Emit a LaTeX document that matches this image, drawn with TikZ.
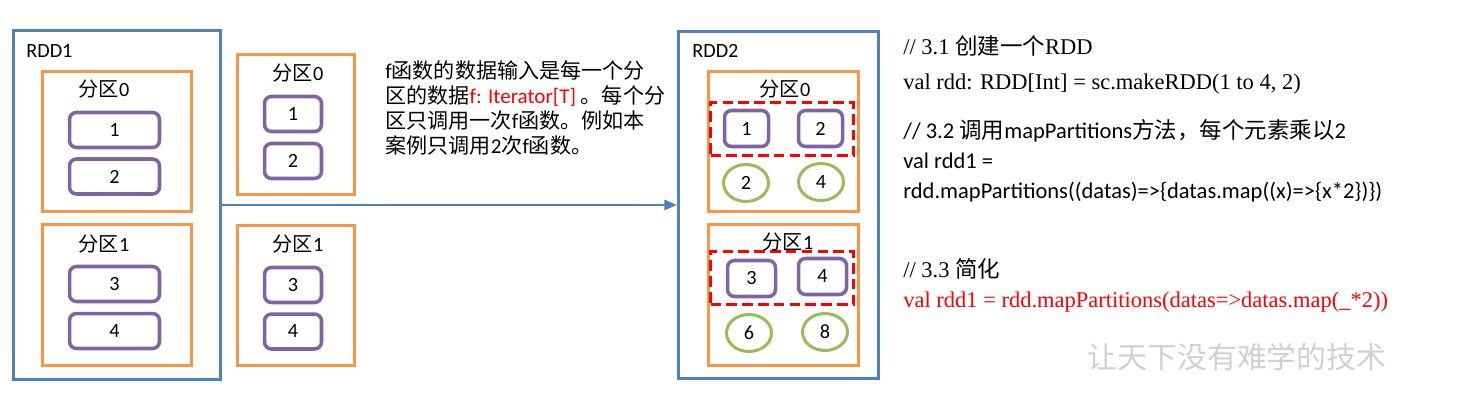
\documentclass[tikz,border=0pt]{standalone}
\usepackage{fontspec}
\setmainfont{Carlito}
\newfontfamily\cjk{Noto Sans CJK SC}
\newfontfamily\serifcode{Liberation Serif}
\usetikzlibrary{arrows.meta,shapes.geometric}
\definecolor{rddblue}{HTML}{4F81BD}
\definecolor{partorange}{HTML}{F79646}
\definecolor{elempurple}{HTML}{8064A2}
\definecolor{resgreen}{HTML}{9BBB59}
\definecolor{markgray}{HTML}{D0D0D0}

\begin{document}
\begin{tikzpicture}[x=0.02cm, y=-0.02cm,
  rddbox/.style={draw=rddblue, line width=2pt, inner sep=0pt},
  partbox/.style={draw=partorange, line width=2pt, inner sep=0pt},
  elembox/.style={draw=elempurple, line width=2pt, rounded corners=4pt, inner sep=0pt,
                  font=\fontsize{11.5}{13}\selectfont},
  resnode/.style={ellipse, draw=resgreen, line width=1.7pt, inner sep=0pt,
                  minimum width=0.9cm, minimum height=0.74cm, font=\fontsize{11.5}{13}\selectfont},
  mapbox/.style={draw=red, line width=2pt, dash pattern=on 6pt off 3pt, inner sep=0pt,
                 minimum width=2.86cm, minimum height=1.06cm},
  namelabel/.style={inner sep=0pt, anchor=base west, font=\fontsize{11.5}{13}\selectfont},
  partlabel/.style={inner sep=0pt, font=\fontsize{11.5}{13}\selectfont},
  codeline/.style={inner sep=0pt, anchor=base west, font=\fontsize{12.8}{15}\selectfont},
  flowarrow/.style={draw=rddblue, line width=0.7pt, -{Triangle[length=7pt,width=6pt]}}]
\useasboundingbox (0,0) rectangle (1479,402);

% RDD1
\node[rddbox, minimum width=4.14cm, minimum height=6.98cm] (rdd1) at (117,205) {};
\node[namelabel] (rdd1name) at (26,58) {RDD1};
\node[partbox, minimum width=2.98cm, minimum height=2.8cm] (src0) at (117,141.5) {};
\node[partbox, minimum width=2.98cm, minimum height=2.82cm] (src1) at (117,295) {};
\node[partlabel] (src0name) at (104,89) {{\cjk 分区}0};
\node[partlabel] (src1name) at (104,244) {{\cjk 分区}1};
\node[elembox, minimum width=1.8cm, minimum height=0.7cm] (srca) at (114.5,130) {1};
\node[elembox, minimum width=1.8cm, minimum height=0.7cm] (srcb) at (114.5,176.5) {2};
\node[elembox, minimum width=1.8cm, minimum height=0.7cm] (srcc) at (114.5,284) {3};
\node[elembox, minimum width=1.8cm, minimum height=0.7cm] (srcd) at (114.5,331) {4};

% partitions handed to f
\node[partbox, minimum width=2.34cm, minimum height=2.8cm] (fin0) at (296,124.5) {};
\node[partbox, minimum width=2.34cm, minimum height=2.8cm] (fin1) at (296,295.5) {};
\node[partlabel] (fin0name) at (298,73) {{\cjk 分区}0};
\node[partlabel] (fin1name) at (298,244) {{\cjk 分区}1};
\node[elembox, minimum width=1.14cm, minimum height=0.7cm] (fina) at (293,114) {1};
\node[elembox, minimum width=1.14cm, minimum height=0.7cm] (finb) at (293,161) {2};
\node[elembox, minimum width=1.14cm, minimum height=0.7cm] (finc) at (293,285) {3};
\node[elembox, minimum width=1.14cm, minimum height=0.7cm] (find) at (293,331.5) {4};

% explanation
\node[inner sep=0pt, anchor=north west, align=left,
      font=\fontsize{12}{14.3}\selectfont] (note) at (385,60) {%
f{\cjk 函数的数据输入是每一个分}\\
{\cjk 区的数据}\textcolor{red}{f: Iterator[T]} {\cjk 。每个分}\\
{\cjk 区只调用一次}f{\cjk 函数。例如本}\\
{\cjk 案例只调用}2{\cjk 次}f{\cjk 函数。}};

% RDD2
\node[rddbox, minimum width=4.0cm, minimum height=6.94cm] (rdd2) at (778.5,205) {};
\node[namelabel] (rdd2name) at (692,58) {RDD2};
\node[partbox, minimum width=3.0cm, minimum height=2.8cm] (dst0) at (783.5,141.5) {};
\node[partbox, minimum width=3.0cm, minimum height=2.82cm] (dst1) at (783.5,295) {};
\node[mapbox] (map0) at (782,129) {};
\node[mapbox] (map1) at (782,278) {};
\node[partlabel] (dst0name) at (785,89) {{\cjk 分区}0};
\node[partlabel] (dst1name) at (788,242) {{\cjk 分区}1};
\node[elembox, minimum width=0.88cm, minimum height=0.72cm] (dsta) at (746.5,128.5) {1};
\node[elembox, minimum width=0.88cm, minimum height=0.72cm] (dstb) at (820.5,128.5) {2};
\node[elembox, minimum width=0.96cm, minimum height=0.72cm] (dstc) at (751.5,278.5) {3};
\node[elembox, minimum width=0.96cm, minimum height=0.72cm] (dstd) at (822.5,276.5) {4};
\node[resnode] (resa) at (746,183) {2};
\node[resnode] (resb) at (821,182) {4};
\node[resnode] (resc) at (749,333) {6};
\node[resnode] (resd) at (825,332) {8};

\draw[flowarrow] (rdd1) -- (rdd2);

% code
\node[codeline, font=\serifcode\fontsize{12.8}{15}\selectfont] (code1) at (903,55) {// 3.1 {\cjk 创建一个}RDD};
\node[codeline, font=\serifcode\fontsize{12.8}{15}\selectfont] (code2) at (903,90) {val rdd: RDD[Int] = sc.makeRDD(1 to 4, 2)};
\node[codeline] (code3) at (903,138) {// 3.2 {\cjk 调用}mapPartitions{\cjk 方法，每个元素乘以}2};
\node[codeline] (code4) at (903,168) {val rdd1 =};
\node[codeline] (code5) at (903,198) {rdd.mapPartitions((datas)=>\{datas.map((x)=>\{x*2\})\})};
\node[codeline, font=\serifcode\fontsize{12.8}{15}\selectfont] (code6) at (903,277) {// 3.3 {\cjk 简化}};
\node[codeline, font=\serifcode\fontsize{12.8}{15}\selectfont, text=red] (code7) at (903,307) {val rdd1 = rdd.mapPartitions(datas=>datas.map(\_*2))};

\node[inner sep=0pt, text=markgray, font=\cjk\fontsize{17}{20}\selectfont] (mark) at (1237,357) {让天下没有难学的技术};
\end{tikzpicture}
\end{document}
